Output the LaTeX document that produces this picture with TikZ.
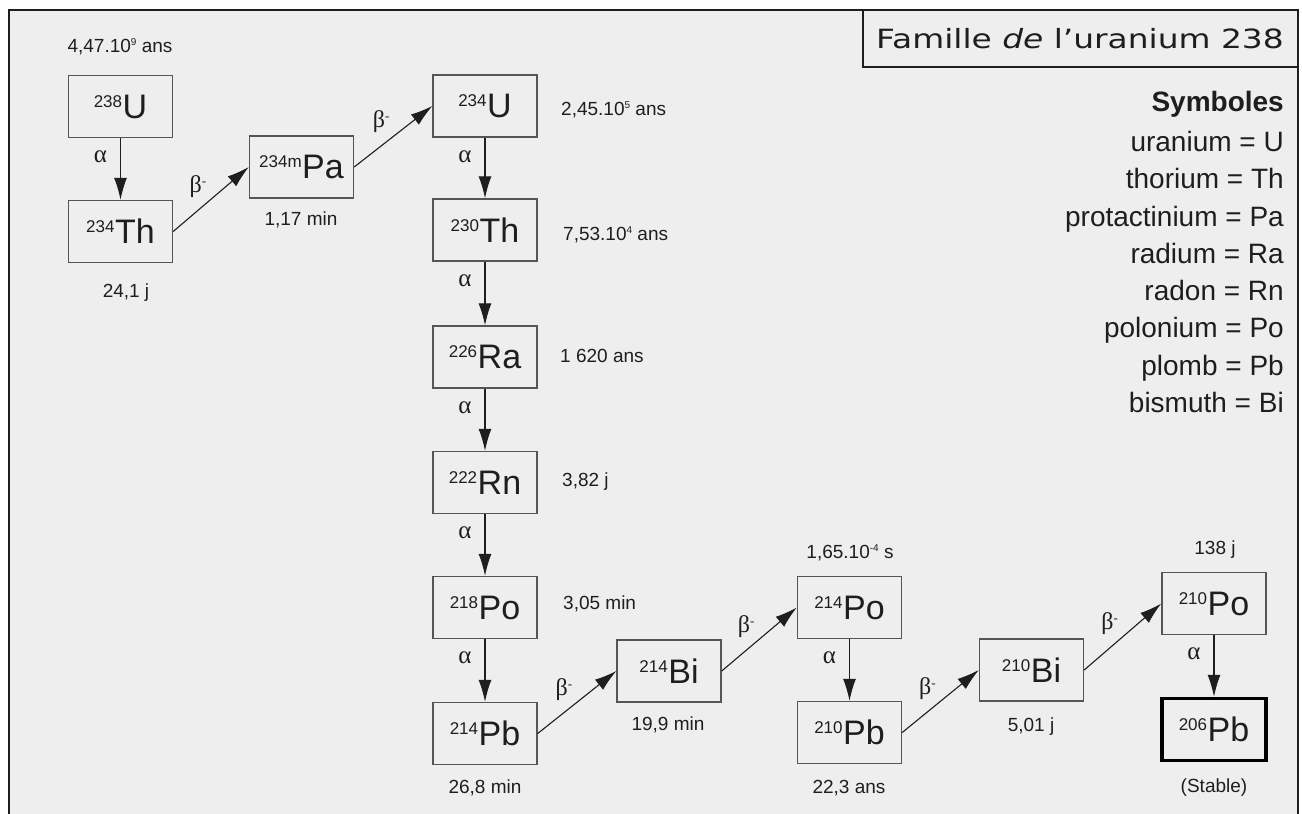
\documentclass[tikz,border=0pt]{standalone}
\usepackage{fontspec}
\setmainfont{Liberation Sans}
\newfontfamily\grk{Liberation Serif}
\newfontfamily\ttlfont{DejaVu Sans}
\usetikzlibrary{arrows.meta,calc}
\definecolor{bg}{RGB}{238,238,238}
\definecolor{ink}{RGB}{30,30,30}
\definecolor{boxline}{RGB}{85,85,85}
\newcommand{\iso}[2]{\raisebox{11pt}{\fontsize{17}{17}\selectfont #1}\kern0.5pt{\fontsize{34}{34}\selectfont #2}}
\newcommand{\expo}[1]{\raisebox{7pt}{\fontsize{10}{10}\selectfont #1}}
\newcommand{\bminus}{{\grk\fontsize{24}{24}\selectfont β\raisebox{7pt}{\fontsize{13}{13}\selectfont -}}}
\tikzset{
  nuc/.style={draw=boxline, line width=1.4pt, minimum width=104pt, minimum height=62pt, inner sep=0pt, text=ink},
  stablebox/.style={nuc, draw=black, line width=3.5pt},
  decay/.style={draw=ink, line width=1.1pt, -{Latex[length=22pt,width=13pt]}},
  hl/.style={text=ink, font=\fontsize{19}{19}\selectfont, inner sep=0pt},
  alab/.style={text=ink, font=\grk\fontsize{25}{25}\selectfont, inner sep=0pt},
  blab/.style={text=ink, inner sep=0pt, pos=0.5, xshift=-13pt, yshift=13pt},
  leg/.style={anchor=base east, font=\fontsize{28}{28}\selectfont, text=ink, inner sep=0pt},
}
\begin{document}
\begin{tikzpicture}[x=1pt,y=-1pt]
\useasboundingbox (0,0) rectangle (1302,814);
\fill[white] (0,0) rectangle (1302,814);
\fill[bg] (9,10) rectangle (1298,814);
\draw[line width=2pt, draw=ink] (9,814) -- (9,10) -- (1298,10) -- (1298,814);
% title
\draw[line width=1.5pt, draw=ink] (863,10) rectangle (1298,67);
\node[text=ink, inner sep=0pt] (title) at (1080,39) {\scalebox{1.24}[1]{\ttlfont\fontsize{26.5}{26.5}\selectfont Famille {\itshape de} l’uranium 238}};
% legend
\node[leg, font=\bfseries\fontsize{28}{28}\selectfont] (lg0) at (1284,111) {Symboles};
\node[leg] (lg1) at (1284,151) {uranium = U};
\node[leg] (lg2) at (1284,188) {thorium = Th};
\node[leg] (lg3) at (1284,226) {protactinium = Pa};
\node[leg] (lg4) at (1284,263) {radium = Ra};
\node[leg] (lg5) at (1284,300) {radon = Rn};
\node[leg] (lg6) at (1284,337) {polonium = Po};
\node[leg] (lg7) at (1284,375) {plomb = Pb};
\node[leg] (lg8) at (1284,412) {bismuth = Bi};
% nuclides
\node[nuc] (U238) at (120.5,106.5) {\iso{238}{U}};
\node[nuc] (Th234) at (120.5,231.5) {\iso{234}{Th}};
\node[nuc] (Pa234) at (301.5,167) {\iso{234m}{Pa}};
\node[nuc] (U234) at (485,106) {\iso{234}{U}};
\node[nuc] (Th230) at (485,230) {\iso{230}{Th}};
\node[nuc] (Ra226) at (485,357) {\iso{226}{Ra}};
\node[nuc] (Rn222) at (485,482.5) {\iso{222}{Rn}};
\node[nuc] (Po218) at (485,607.5) {\iso{218}{Po}};
\node[nuc] (Pb214) at (485,733.5) {\iso{214}{Pb}};
\node[nuc] (Bi214) at (669,671) {\iso{214}{Bi}};
\node[nuc] (Po214) at (849.5,607.5) {\iso{214}{Po}};
\node[nuc] (Pb210) at (849.5,732.5) {\iso{210}{Pb}};
\node[nuc] (Bi210) at (1031.5,670) {\iso{210}{Bi}};
\node[nuc] (Po210) at (1214,603.5) {\iso{210}{Po}};
\node[stablebox] (Pb206) at (1214,729.5) {\iso{206}{Pb}};
% alpha decays
\draw[decay] (U238) -- (Th234);
\draw[decay] (U234) -- (Th230);
\draw[decay] (Th230) -- (Ra226);
\draw[decay] (Ra226) -- (Rn222);
\draw[decay] (Rn222) -- (Po218);
\draw[decay] (Po218) -- (Pb214);
\draw[decay] (Po214) -- (Pb210);
\draw[decay] (Po210) -- (Pb206);
\foreach \n in {U238,U234,Th230,Ra226,Rn222,Po218,Po214,Po210}
  \node[alab] (a\n) at ($(\n.south)+(-20,19)$) {α};
% beta decays
\draw[decay] (Th234.east) -- node[blab] (b1) {\bminus} (Pa234.west);
\draw[decay] (Pa234.east) -- node[blab, xshift=1pt, yshift=2pt] (b2) {\bminus} (U234.west);
\draw[decay] (Pb214.east) -- node[blab] (b3) {\bminus} (Bi214.west);
\draw[decay] (Bi214.east) -- node[blab] (b4) {\bminus} (Po214.west);
\draw[decay] (Pb210.east) -- node[blab] (b5) {\bminus} (Bi210.west);
\draw[decay] (Bi210.east) -- node[blab] (b6) {\bminus} (Po210.west);
% half-lives
\node[hl] (h1) at (120,47) {4,47.10\expo{9} ans};
\node[hl] (h2) at (126,293) {24,1 j};
\node[hl] (h3) at (301,220) {1,17 min};
\node[hl, anchor=west] (h4) at (561,110) {2,45.10\expo{5} ans};
\node[hl, anchor=west] (h5) at (563,235) {7,53.10\expo{4} ans};
\node[hl, anchor=west] (h6) at (560,356) {1 620 ans};
\node[hl, anchor=west] (h7) at (562,482) {3,82 j};
\node[hl, anchor=west] (h8) at (563,604) {3,05 min};
\node[hl] (h9) at (485,788) {26,8 min};
\node[hl] (h10) at (668,725) {19,9 min};
\node[hl] (h11) at (850,553) {1,65.10\expo{-4} s};
\node[hl] (h12) at (849,788) {22,3 ans};
\node[hl] (h13) at (1031,727) {5,01 j};
\node[hl] (h14) at (1215,550) {138 j};
\node[hl] (h15) at (1214,788) {(Stable)};
\end{tikzpicture}
\end{document}
